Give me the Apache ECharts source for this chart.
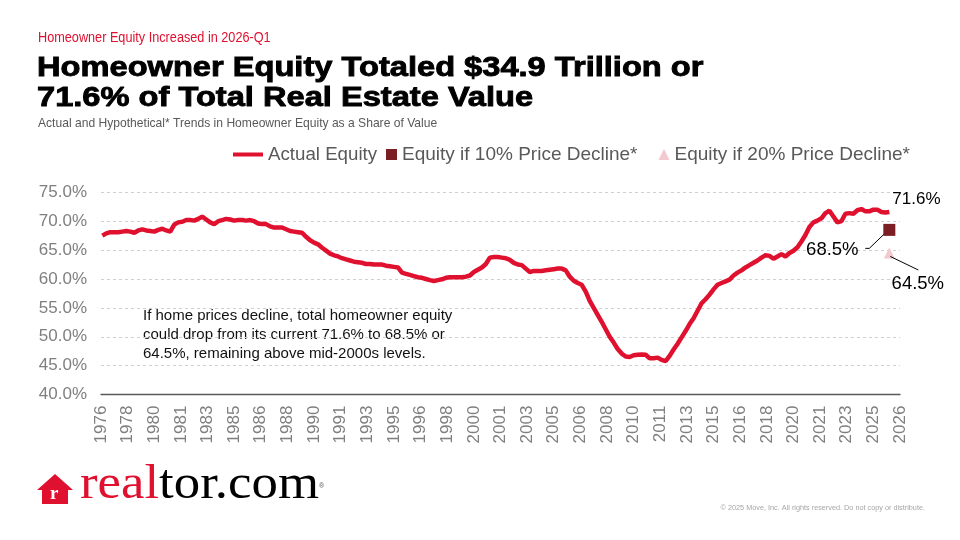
<!DOCTYPE html>
<html>
<head>
<meta charset="utf-8">
<script src="https://cdn.jsdelivr.net/npm/echarts@6/dist/echarts.min.js"></script>
<style>
html,body{margin:0;padding:0;background:#fff;}
#c{width:960px;height:540px;}
</style>
</head>
<body>
<div id="c"></div>
<script>
// Quarterly series, first quarter = 1976-Q4, last = 2026-Q1
const firstQuarterYear = 1976.75;
const actualEquity = [
  67.5, 67.9, 68.1, 68.1, 68.1, 68.2, 68.3, 68.2,
  68.0, 68.4, 68.6, 68.4, 68.3, 68.2, 68.5, 68.7,
  68.4, 68.2, 69.4, 69.8, 69.9, 70.2, 70.2, 70.1,
  70.4, 70.8, 70.3, 69.8, 69.5, 70.0, 70.2, 70.4,
  70.3, 70.1, 70.2, 70.2, 70.1, 70.2, 70.0, 69.6,
  69.5, 69.5, 69.1, 68.9, 68.9, 68.9, 68.6, 68.3,
  68.2, 68.1, 68.0, 67.3, 66.7, 66.3, 66.0, 65.4,
  64.9, 64.4, 64.1, 63.9, 63.6, 63.4, 63.2, 63.0,
  62.9, 62.8, 62.6, 62.6, 62.5, 62.5, 62.5, 62.3,
  62.2, 62.1, 62.0, 61.1, 60.9, 60.7, 60.5, 60.3,
  60.2, 60.0, 59.8, 59.65, 59.8, 59.95, 60.2, 60.3,
  60.3, 60.3, 60.3, 60.4, 60.6, 61.2, 61.6, 62.0,
  62.6, 63.7, 63.8, 63.8, 63.7, 63.6, 63.3, 62.8,
  62.5, 62.4, 61.8, 61.2, 61.4, 61.4, 61.4, 61.5,
  61.6, 61.7, 61.8, 61.8, 61.5, 60.4, 59.7, 59.3,
  59.0, 57.8, 56.2, 55.0, 53.8, 52.6, 51.3, 50.0,
  49.0, 47.9, 47.1, 46.6, 46.5, 46.8, 46.9, 46.95,
  46.9, 46.3, 46.3, 46.4, 46.0, 45.8, 46.7, 47.8,
  48.8, 49.9, 51.0, 52.2, 53.2, 54.5, 55.8, 56.5,
  57.3, 58.2, 59.0, 59.3, 59.6, 59.9, 60.6, 61.1,
  61.5, 62.0, 62.4, 62.8, 63.2, 63.7, 64.1, 64.0,
  63.5, 63.9, 64.3, 63.9, 64.5, 64.9, 65.5, 66.5,
  67.6, 69.0, 69.8, 70.1, 70.5, 71.4, 71.8, 70.8,
  69.8, 70.0, 71.3, 71.4, 71.3, 71.9, 72.1, 71.7,
  71.7, 72.0, 72.0, 71.6, 71.5, 71.6
];
const decline10 = [68.5];
const decline20 = [64.5];
const seriesNames = ['Actual Equity', 'Equity if 10% Price Decline*', 'Equity if 20% Price Decline*'];
const yTicks = [40, 45, 50, 55, 60, 65, 70, 75];
const xLabelStep = 5 / 3;          // years between x labels
const xStart = 1186 * xLabelStep;  // 1976.67, a multiple of the step
const xEnd = xStart + 30 * xLabelStep;

const lineData = actualEquity.map((v, i) => [firstQuarterYear + i * 0.25, v]);
const lastX = lineData[lineData.length - 1][0];

const chart = echarts.init(document.getElementById('c'), null, {renderer: 'canvas'});
const RED = '#E0102F';
const DARKRED = '#7B1F24';
const PINK = '#F2C9CE';
const FONT = "'Liberation Sans', Arial, sans-serif";
const SERIF = '"Liberation Serif", "DejaVu Serif", serif';
const pctLabel = p => p.value[1].toFixed(1) + '%';

chart.setOption({
  animation: false,
  backgroundColor: '#ffffff',
  textStyle: {fontFamily: FONT},
  grid: {left: 101, right: 60, top: 192.3, bottom: 145.4, containLabel: false},
  legend: [
    {
      left: 228, top: 140,
      itemWidth: 30, itemHeight: 4,
      textStyle: {fontSize: 18.7, color: '#595959', fontFamily: FONT},
      data: [{name: seriesNames[0], icon: 'path://M0 0H30V4H0Z'}]
    },
    {
      left: 381, top: 140,
      itemWidth: 11, itemHeight: 11, itemGap: 21,
      textStyle: {fontSize: 19, color: '#595959', fontFamily: FONT},
      data: [{name: seriesNames[1], icon: 'rect'}, {name: seriesNames[2], icon: 'triangle'}]
    }
  ],
  xAxis: {
    type: 'value',
    min: xStart, max: xEnd + 0.001, interval: xLabelStep,
    axisLine: {show: true, lineStyle: {color: '#595959', width: 1.3}},
    axisTick: {show: false},
    splitLine: {show: false},
    axisLabel: {
      rotate: 90, fontSize: 17, color: '#7f7f7f', margin: 11,
      formatter: v => String(Math.floor(v + 1e-6))
    }
  },
  yAxis: {
    type: 'value', min: yTicks[0], max: yTicks[yTicks.length - 1], interval: 5,
    axisLine: {show: false}, axisTick: {show: false},
    splitLine: {show: true, lineStyle: {color: '#D0D0D0', type: [3, 3], width: 1}},
    axisLabel: {fontSize: 17, color: '#7f7f7f', margin: 14, formatter: v => v.toFixed(1) + '%'}
  },
  series: [
    {
      name: seriesNames[0], type: 'line', data: lineData,
      symbol: 'none', showSymbol: false,
      lineStyle: {color: RED, width: 4.5}, itemStyle: {color: RED},
      z: 3,
      endLabel: {show: true, fontSize: 17, color: '#000', offset: [-5, -13], formatter: pctLabel}
    },
    {
      name: seriesNames[1], type: 'scatter', symbol: 'rect', symbolSize: 12,
      data: decline10.map(v => [lastX, v]),
      itemStyle: {color: DARKRED, opacity: 1},
      z: 4,
      label: {show: true, position: 'inside', fontSize: 18.5, color: '#000', formatter: pctLabel},
      labelLayout: {dx: -57, dy: 20}
    },
    {
      name: seriesNames[2], type: 'scatter', symbol: 'triangle', symbolSize: 11,
      data: decline20.map(v => [lastX, v]),
      itemStyle: {color: PINK, opacity: 1},
      z: 4,
      label: {show: true, position: 'inside', fontSize: 18.5, color: '#000', formatter: pctLabel},
      labelLayout: {dx: 28.5, dy: 31}
    }
  ],
  graphic: [
    {id: 'kicker', type: 'text', x: 38, y: 31, scaleX: 0.906,
      style: {text: 'Homeowner Equity Increased in 2026-Q1', fill: RED, font: '14px ' + FONT}},
    {id: 'title', type: 'text', x: 37, y: 53.5, scaleX: 1.165,
      style: {text: 'Homeowner Equity Totaled $34.9 Trillion or\n71.6% of Total Real Estate Value',
        fill: '#000', stroke: '#000', lineWidth: 0.9, font: 'bold 28px ' + FONT, lineHeight: 30}},
    {id: 'sub', type: 'text', x: 38, y: 116.5, scaleX: 0.93,
      style: {text: 'Actual and Hypothetical* Trends in Homeowner Equity as a Share of Value', fill: '#595959', font: '13px ' + FONT}},
    {id: 'note', type: 'text', x: 143, y: 306, style: {text: 'If home prices decline, total homeowner equity\ncould drop from its current 71.6% to 68.5% or\n64.5%, remaining above mid-2000s levels.', fill: '#111', font: '15px ' + FONT, lineHeight: 19}},
    {id: 'house', type: 'polygon', shape: {points: [[55, 474], [73, 490], [68, 490], [68, 504], [42, 504], [42, 490], [37, 490]]}, style: {fill: RED}},
    {id: 'houseR', type: 'text', x: 50, y: 485, style: {text: 'r', fill: '#fff', font: 'bold 19px ' + SERIF}},
    {id: 'logo', type: 'text', x: 80, y: 461, scaleX: 1.1, style: {
      text: '{a|real}{b|tor.com}',
      rich: {
        a: {fill: RED, font: '48px ' + SERIF},
        b: {fill: '#000', font: '48px ' + SERIF}
      }
    }},
    {id: 'reg', type: 'text', x: 319, y: 483, style: {text: '\u00AE', fill: '#555', font: '7px ' + FONT}},
    {id: 'copy', type: 'text', x: 925, y: 505, scaleX: 1.04, style: {text: '\u00A9 2025 Move, Inc. All rights reserved. Do not copy or distribute.', fill: '#a6a6a6', font: '7px ' + FONT, align: 'right'}}
  ]
});

// leader lines from the hypothetical markers to their labels, positioned from the data through the axes
const p10 = chart.convertToPixel({gridIndex: 0}, [lastX, decline10[0]]);
const p20 = chart.convertToPixel({gridIndex: 0}, [lastX, decline20[0]]);
chart.setOption({
  graphic: [
    {id: 'lead10', type: 'polyline', z: 10,
      shape: {points: [[p10[0] - 24, p10[1] + 18.5], [p10[0] - 20, p10[1] + 18.5], [p10[0] - 5.5, p10[1] + 4.5]]},
      style: {stroke: '#000', lineWidth: 1, fill: null}},
    {id: 'lead20', type: 'polyline', z: 10,
      shape: {points: [[p20[0] + 1, p20[1] + 3.5], [p20[0] + 29, p20[1] + 17]]},
      style: {stroke: '#000', lineWidth: 1, fill: null}}
  ]
});
</script>
</body>
</html>
